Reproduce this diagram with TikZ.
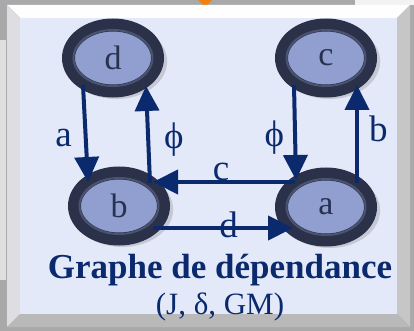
\documentclass[tikz,border=0pt]{standalone}
\usepackage{fontspec}
\setmainfont{Liberation Serif}
\usepackage{xcolor}
\usetikzlibrary{shapes.geometric, arrows.meta, positioning, calc, shadows}

\definecolor{navyline}{HTML}{0B2A6E}
\definecolor{ringdark}{HTML}{2A3149}
\definecolor{ringlight}{HTML}{4A5370}
\definecolor{statefill}{HTML}{909FCF}
\definecolor{statetext}{HTML}{283150}
\definecolor{panelface}{HTML}{E3E9F8}
\definecolor{backgray}{HTML}{A9A9A9}

\begin{document}
\begin{tikzpicture}[x=1pt, y=-1pt]
    % Styles
    \tikzstyle{statenode} = [ellipse, draw=ringdark, line width=13pt, fill=statefill, minimum width=89pt, minimum height=66pt, inner sep=0pt, text=statetext, font=\fontsize{34}{34}\selectfont, drop shadow={opacity=0.3, shadow xshift=3pt, shadow yshift=-3pt, shadow scale=1.14}]
    \tikzstyle{rim} = [ellipse, draw=ringlight, line width=2pt, minimum width=79pt, minimum height=56pt, inner sep=0pt]
    \tikzstyle{line} = [draw=navyline, line width=4pt, -{Triangle[length=25pt, width=24pt]}]
    \tikzstyle{lbl} = [text=navyline, font=\fontsize{37}{37}\selectfont, inner sep=0pt]

    % --- BACKGROUND ---
    \useasboundingbox (0,0) rectangle (414,331);
    \fill[backgray] (0,0) rectangle (414,331);
    \fill[white!90!gray] (355,0) rectangle (414,5);
    \fill[gray!25] (0,40) rectangle (6,280);
    \fill[orange!80!brown] (198,0) -- (212,0) -- (205,7) -- cycle;

    % --- PANEL (bevelled) ---
    \fill[white!85!blue!3] (7,5) -- (410,5) -- (397,18) -- (20,18) -- cycle;
    \fill[blue!8!gray!25] (7,5) -- (20,18) -- (20,314) -- (7,327) -- cycle;
    \fill[gray!45] (410,5) -- (410,327) -- (397,314) -- (397,18) -- cycle;
    \fill[gray!55] (7,327) -- (410,327) -- (397,314) -- (20,314) -- cycle;
    \fill[panelface] (20,18) rectangle (397,314);

    % --- STATES ---
    \node [statenode] (nd) at (113,58) {};
    \node [statenode] (nc) at (326,58) {};
    \node [statenode] (nb) at (119,206) {};
    \node [statenode] (na) at (326,207) {};
    \foreach \s/\t in {nd/d, nc/c, nb/b, na/a}
        \node [rim, font=\fontsize{34}{34}\selectfont, text=statetext] at (\s) {\t};

    % --- CONNECTIONS ---
    \path [line] ($(nd)+(-30,27)$) -- node[lbl, left=12pt, pos=0.55] {a} ($(nb)+(-31,-24)$);
    \path [line] ($(nb)+(31,-23)$) -- node[lbl, right=14pt, pos=0.45] {ϕ} ($(nd)+(33,28)$);
    \path [line] ($(na)+(-31,-25)$) -- node[lbl, above=-1pt, pos=0.52] {c} ($(nb)+(34,-24)$);
    \path [line] ($(nc)+(-32,27)$) -- node[lbl, left=9pt, pos=0.55] {ϕ} ($(na)+(-30,-27)$);
    \path [line] ($(na)+(31,-24)$) -- node[lbl, right=10pt, pos=0.55] {b} ($(nc)+(31,27)$);
    \path [line] ($(nb)+(34,22)$) -- node[lbl, pos=0.54, yshift=3pt] {d} ($(na)+(-33,21)$);

    % --- LABELS ---
    \node[text=navyline, font=\bfseries\fontsize{35}{35}\selectfont] (title) at (220,270) {Graphe de dépendance};
    \node[text=navyline, font=\fontsize{31}{31}\selectfont] (sub) at (220,307) {(J, δ, GM)};

\end{tikzpicture}
\end{document}
